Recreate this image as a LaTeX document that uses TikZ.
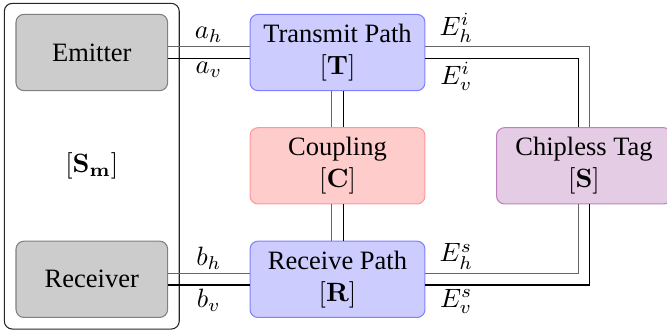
\documentclass[tikz,border=0pt]{standalone}
\usepackage[no-math]{fontspec}
\setmainfont{Liberation Serif}
\begin{document}
\begin{tikzpicture}[x=0.37736pt,y=-0.37736pt,
  blk/.style={rectangle, rounded corners=3pt, minimum height=28.8pt, align=center, inner sep=0pt},
  dev/.style={blk, minimum width=57.2pt, fill=black!20, draw=black!50},
  path/.style={blk, minimum width=66pt, fill=blue!20, draw=blue!50},
  coup/.style={blk, minimum width=66pt, fill=red!20, draw=red!40},
  tag/.style={blk, minimum width=66pt, fill=violet!20, draw=violet!50},
  hl/.style={draw=black!60, line width=0.4pt},
  vl/.style={draw=black, line width=0.4pt},
  lbl/.style={inner sep=1.4pt}]
\useasboundingbox (0,0) rectangle (667,334);
\def\d{2.15pt}
\node[draw=black!85, rounded corners=3pt, minimum width=66pt, minimum height=122.9pt, inner sep=0pt] (Sm) at (91.8,166.2) {$[\mathbf{S_m}]$};
\node[dev] (Em) at (91.8,52.5) {Emitter};
\node[dev] (Rx) at (91.8,279.3) {Receiver};
\node[path] (T) at (337.5,52.5) {Transmit Path\\$[\mathbf{T}]$};
\node[coup] (C) at (337.5,165.8) {Coupling\\$[\mathbf{C}]$};
\node[path] (R) at (337.5,279.3) {Receive Path\\$[\mathbf{R}]$};
\node[tag] (Tag) at (584,165.8) {Chipless Tag\\$[\mathbf{S}]$};
\draw[hl] ([yshift=\d]Em.east) -- node[above,lbl]{$a_h$} ([yshift=\d]T.west);
\draw[vl] ([yshift=-\d]Em.east) -- node[below,lbl]{$a_v$} ([yshift=-\d]T.west);
\draw[hl] ([yshift=\d]T.east) -| node[pos=0.094,above,lbl]{$E_h^i$} ([xshift=\d]Tag.north);
\draw[vl] ([yshift=-\d]T.east) -| node[pos=0.101,below,lbl]{$E_v^i$} ([xshift=-\d]Tag.north);
\draw[hl] ([xshift=-\d]T.south) -- ([xshift=-\d]C.north);
\draw[vl] ([xshift=\d]T.south) -- ([xshift=\d]C.north);
\draw[hl] ([xshift=-\d]C.south) -- ([xshift=-\d]R.north);
\draw[vl] ([xshift=\d]C.south) -- ([xshift=\d]R.north);
\draw[hl] ([yshift=\d]Rx.east) -- node[above,lbl]{$b_h$} ([yshift=\d]R.west);
\draw[vl] ([yshift=-\d]Rx.east) -- node[below,lbl]{$b_v$} ([yshift=-\d]R.west);
\draw[hl] ([yshift=\d]R.east) -| node[pos=0.101,above,lbl]{$E_h^s$} ([xshift=-\d]Tag.south);
\draw[vl] ([yshift=-\d]R.east) -| node[pos=0.094,below,lbl]{$E_v^s$} ([xshift=\d]Tag.south);
\end{tikzpicture}
\end{document}
